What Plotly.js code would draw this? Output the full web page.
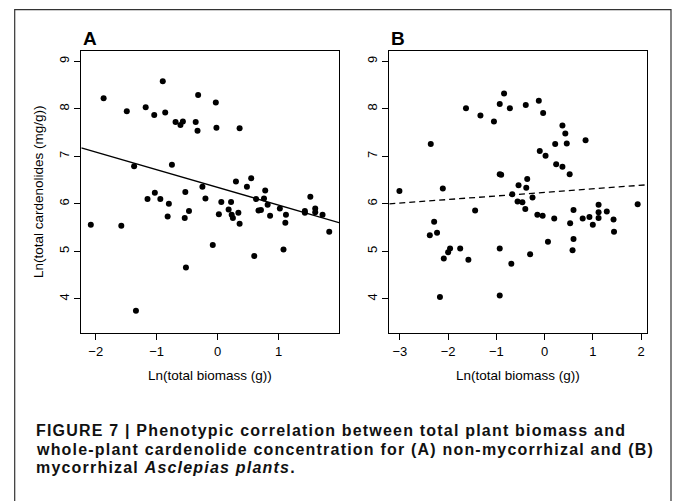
<!DOCTYPE html>
<html><head><meta charset="utf-8">
<script src="https://cdn.plot.ly/plotly-3.0.1.min.js"></script>
<style>html,body{margin:0;padding:0;background:#fff;}#chart{width:673px;height:501px;}
#chart g.annotation[data-index="5"] text,#chart g.annotation[data-index="6"] text,#chart g.annotation[data-index="7"] text{letter-spacing:1.2px;}
</style>
</head><body><div id="chart"></div>
<script>
// Panel A: non-mycorrhizal
const aBiomass = [-1.87,-1.49,-1.18,-1.04,-0.90,-0.86,-0.69,-0.61,-0.57,-0.36,-0.32,-0.33,-0.03,-0.02,0.36,-1.37,-0.75,-0.25,0.30,0.55,0.48,0.78,
  -2.08,-1.58,-1.34,-1.15,-1.03,-0.94,-0.80,-0.82,-0.53,-0.54,-0.47,-0.52,-0.20,-0.08,0.02,0.06,0.18,0.22,0.23,0.25,
  0.34,0.36,0.60,0.63,0.67,0.71,0.76,0.82,0.86,1.02,1.08,1.12,1.11,1.43,1.43,1.52,1.60,1.60,1.72,1.83];
const aCard = [8.22,7.95,8.03,7.87,8.58,7.92,7.72,7.66,7.73,7.72,8.29,7.54,8.13,7.60,7.59,6.79,6.82,6.36,6.47,6.54,6.36,6.28,
  5.56,5.54,3.75,6.10,6.23,6.10,6.00,5.73,6.25,5.70,5.85,4.66,6.11,5.13,5.78,6.04,5.88,6.04,5.77,5.70,
  5.81,5.58,4.90,6.10,5.86,5.87,6.11,5.98,5.75,5.90,5.04,5.77,5.60,5.85,5.81,6.15,5.90,5.82,5.77,5.41];
// Panel B: mycorrhizal
const bBiomass = [-2.36,-1.63,-1.33,-1.05,-0.93,-0.84,-0.72,-0.39,-0.12,-0.03,0.37,0.43,0.46,0.22,0.85,-0.10,0.02,0.24,0.37,0.52,-0.93,-0.90,-0.36,-0.54,-0.38,
  -3.01,-2.11,-2.38,-2.29,-2.23,-2.09,-2.00,-1.96,-2.17,-1.75,-1.58,-1.44,-0.93,-0.93,-0.69,-0.67,-0.56,-0.46,-0.40,-0.25,-0.30,-0.15,-0.04,0.07,0.20,
  0.53,0.60,0.60,0.58,0.79,0.93,1.00,1.12,1.12,1.12,1.29,1.43,1.44,1.93];
const bCard = [7.26,8.01,7.86,7.73,8.10,8.32,8.01,8.08,8.17,7.91,7.65,7.48,7.27,7.26,7.34,7.11,7.01,6.83,6.78,6.62,6.62,6.61,6.52,6.39,6.34,
  6.27,6.32,5.34,5.62,5.39,4.85,4.98,5.06,4.04,5.06,4.82,5.86,5.06,4.07,4.74,6.20,6.05,6.03,5.89,6.13,4.94,5.77,5.75,5.20,5.69,
  5.59,5.87,5.26,5.02,5.69,5.72,5.56,5.98,5.82,5.70,5.84,5.67,5.41,5.99];
// Fitted regression lines [intercept, slope]
const fitA = [6.345, -0.373];
const fitB = [6.24, 0.075];
const xTicksA = [-2,-1,0,1];
const xTicksB = [-3,-2,-1,0,1,2];
const yTicks = [4,5,6,7,8,9];

const W = 673, H = 501;
const rangeA = [-2.236, 1.99], rangeB = [-3.22, 2.13], rangeY = [3.28, 9.21];
const px = v => v / W, py = v => 1 - v / H;

const mk = {color:'#000', size:6};
const traces = [
  {x:aBiomass, y:aCard, mode:'markers', type:'scatter', marker:mk, xaxis:'x', yaxis:'y', hoverinfo:'skip'},
  {x:rangeA, y:rangeA.map(v=>fitA[0]+fitA[1]*v), mode:'lines', line:{color:'#000', width:1.3}, xaxis:'x', yaxis:'y'},
  {x:bBiomass, y:bCard, mode:'markers', type:'scatter', marker:mk, xaxis:'x2', yaxis:'y2', hoverinfo:'skip'},
  {x:rangeB, y:rangeB.map(v=>fitB[0]+fitB[1]*v), mode:'lines', line:{color:'#000', width:1.3, dash:'6px,4px'}, xaxis:'x2', yaxis:'y2'}
];

const FF = 'Liberation Sans, Arial, sans-serif';
const tf = {family:FF, size:13, color:'#000'};
const axCommon = {showgrid:false, zeroline:false, showline:true, linecolor:'#000', linewidth:1, mirror:true,
  ticks:'outside', ticklen:6, tickwidth:1, tickcolor:'#000', tickfont:tf};
const titleFont = {family:FF, size:13.5, color:'#000'};
const capFont = {family:FF, size:16, color:'#111'};
const layout = {
  width:W, height:H, margin:{l:0,r:0,t:0,b:0}, paper_bgcolor:'#fff', plot_bgcolor:'#fff', showlegend:false,
  xaxis:Object.assign({}, axCommon, {domain:[px(81.3), px(339)], range:rangeA, tickvals:xTicksA, anchor:'y'}),
  yaxis:Object.assign({}, axCommon, {domain:[py(333), py(51.3)], range:rangeY, tickvals:yTicks, tickangle:-90, anchor:'x'}),
  xaxis2:Object.assign({}, axCommon, {domain:[px(389.3), px(647.3)], range:rangeB, tickvals:xTicksB, anchor:'y2'}),
  yaxis2:Object.assign({}, axCommon, {domain:[py(333), py(51.3)], range:rangeY, tickvals:yTicks, tickangle:-90, anchor:'x2'}),
  shapes:[{type:'rect', xref:'paper', yref:'paper', x0:px(14.7), x1:px(671), y0:-0.05, y1:py(9.7), line:{color:'#333', width:1.2}}],
  annotations:[
    {text:'<b>A</b>', xref:'paper', yref:'paper', x:px(81), y:py(38), xanchor:'left', yanchor:'middle', showarrow:false, font:{family:FF, size:19, color:'#000'}},
    {text:'<b>B</b>', xref:'paper', yref:'paper', x:px(389), y:py(38), xanchor:'left', yanchor:'middle', showarrow:false, font:{family:FF, size:19, color:'#000'}},
    {text:'Ln(total cardenolides (mg/g))', xref:'paper', yref:'paper', x:px(38), y:py(192), textangle:-90, xanchor:'center', yanchor:'middle', showarrow:false, font:titleFont},
    {text:'Ln(total biomass (g))', xref:'paper', yref:'paper', x:px(210), y:py(375), xanchor:'center', yanchor:'middle', showarrow:false, font:titleFont},
    {text:'Ln(total biomass (g))', xref:'paper', yref:'paper', x:px(518), y:py(375), xanchor:'center', yanchor:'middle', showarrow:false, font:titleFont},
    {text:'<b>FIGURE 7 | Phenotypic correlation between total plant biomass and</b>', xref:'paper', yref:'paper', x:px(34), y:py(430), xanchor:'left', yanchor:'middle', align:'left', showarrow:false, font:capFont},
    {text:'<b>whole-plant cardenolide concentration for (A) non-mycorrhizal and (B)</b>', xref:'paper', yref:'paper', x:px(34), y:py(449), xanchor:'left', yanchor:'middle', align:'left', showarrow:false, font:capFont},
    {text:'<b>mycorrhizal <i>Asclepias plants</i>.</b>', xref:'paper', yref:'paper', x:px(34), y:py(467), xanchor:'left', yanchor:'middle', align:'left', showarrow:false, font:capFont}
  ]
};
Plotly.newPlot('chart', traces, layout, {staticPlot:true, displayModeBar:false});
</script>
</body></html>
